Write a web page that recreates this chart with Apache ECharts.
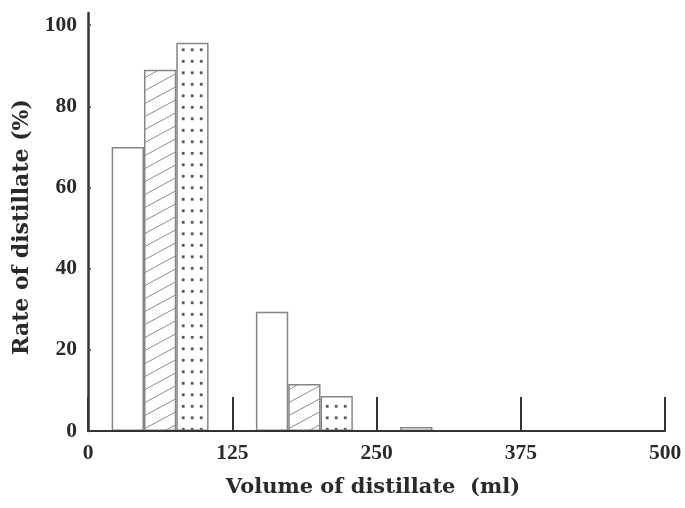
<!DOCTYPE html>
<html>
<head>
<meta charset="utf-8">
<script src="https://cdn.jsdelivr.net/npm/echarts@6/dist/echarts.min.js"></script>
<style>
html,body{margin:0;padding:0;background:#fff;}
#chart{width:685px;height:508px;}
</style>
</head>
<body>
<div id="chart"></div>
<script>
// ---- data ----
const categories = ['0-125', '125-250', '250-375', '375-500'];
const whiteValues = [70, 29.4, 1, 0];
const hatchedValues = [89, 11.6, 0, 0];
const dottedValues = [95.7, 8.6, 0, 0];
const xTickValues = [0, 125, 250, 375, 500];
const yTickValues = [0, 20, 40, 60, 80, 100];
const xTitle = 'Volume of distillate  (ml)';
const yTitle = 'Rate of distillate (%)';

// ---- fill patterns ----
function hatchPattern() {
  const c = document.createElement('canvas');
  c.width = 24; c.height = 13;
  const g = c.getContext('2d');
  g.fillStyle = '#fff'; g.fillRect(0, 0, 24, 13);
  g.strokeStyle = '#8c8c8c'; g.lineWidth = 1;
  for (let j = -1; j <= 1; j++) {
    g.beginPath();
    g.moveTo(0, 13 + j * 13);
    g.lineTo(24, j * 13);
    g.stroke();
  }
  return c;
}
function dotPattern() {
  const c = document.createElement('canvas');
  c.width = 9; c.height = 23;
  const g = c.getContext('2d');
  g.fillStyle = '#fff'; g.fillRect(0, 0, 9, 23);
  g.fillStyle = '#5a5a5a';
  g.fillRect(1.8, 2.4, 2.8, 2.8);
  g.fillRect(1.8, 13.9, 2.8, 2.8);
  return c;
}

const labelFont = {
  fontFamily: '"Liberation Serif", "Times New Roman", serif',
  fontWeight: 'bold',
  fontSize: 21.5,
  color: '#2a2a2a'
};
const titleFont = '"DejaVu Serif", serif';

const barBorder = { borderColor: '#858585', borderWidth: 1.5 };

const chart = echarts.init(document.getElementById('chart'), null, { renderer: 'canvas' });
chart.setOption({
  animation: false,
  backgroundColor: '#fff',
  grid: { left: 88, right: 20, top: 13, bottom: 77 },
  xAxis: [
    {
      type: 'category',
      data: categories,
      boundaryGap: true,
      show: false
    },
    {
      type: 'value',
      position: 'bottom',
      z: 10,
      min: 0, max: 500, interval: 125,
      axisLine: { show: true, lineStyle: { color: '#333', width: 2 } },
      axisTick: { show: true, inside: true, length: 34, customValues: xTickValues, lineStyle: { color: '#333', width: 2 } },
      axisLabel: Object.assign({ margin: 11, customValues: xTickValues }, labelFont),
      splitLine: { show: false }
    }
  ],
  yAxis: {
    type: 'value',
    z: 10,
    min: 0, max: 103, interval: 20,
    axisLine: { show: true, lineStyle: { color: '#333', width: 2.5 } },
    axisTick: { show: true, inside: true, length: 3, customValues: yTickValues, lineStyle: { color: '#444', width: 1.5 } },
    axisLabel: Object.assign({
      margin: 11,
      customValues: yTickValues,
      formatter: v => (yTickValues.indexOf(v) >= 0 ? String(v) : '')
    }, labelFont),
    splitLine: { show: false }
  },
  series: [
    {
      type: 'bar', xAxisIndex: 0, data: whiteValues,
      barWidth: '22.4%', barGap: '0%',
      itemStyle: Object.assign({ color: '#fff' }, barBorder)
    },
    {
      type: 'bar', xAxisIndex: 0, data: hatchedValues,
      barWidth: '22.4%', barGap: '0%',
      itemStyle: Object.assign({ color: { image: hatchPattern(), repeat: 'repeat' } }, barBorder)
    },
    {
      type: 'bar', xAxisIndex: 0, data: dottedValues,
      barWidth: '22.4%', barGap: '0%',
      itemStyle: Object.assign({ color: { image: dotPattern(), repeat: 'repeat' } }, barBorder)
    }
  ],
  graphic: [
    {
      type: 'text', x: 373, y: 488,
      style: { text: xTitle, font: 'bold 21px ' + titleFont, fill: '#2a2a2a', textAlign: 'center', textVerticalAlign: 'middle' }
    },
    {
      type: 'text', x: 22, y: 227, rotation: Math.PI / 2,
      style: { text: yTitle, font: 'bold 22px ' + titleFont, fill: '#2a2a2a', textAlign: 'center', textVerticalAlign: 'middle' }
    }
  ]
});
</script>
</body>
</html>
